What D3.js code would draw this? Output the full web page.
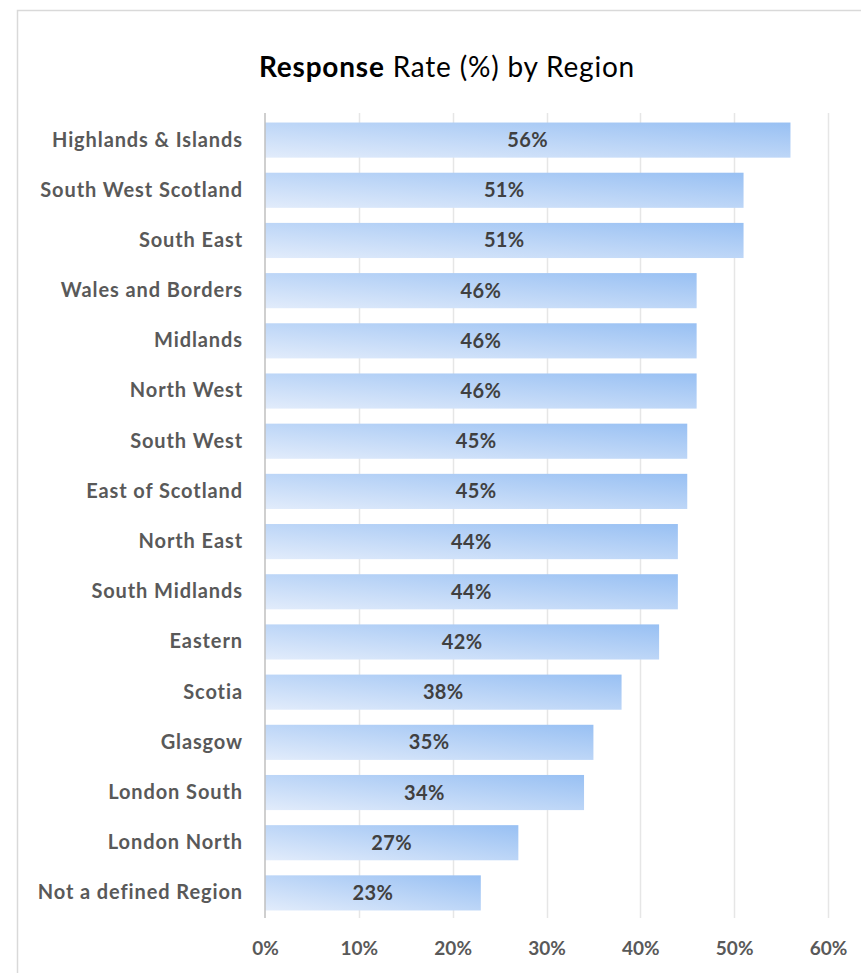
<!DOCTYPE html>
<html>
<head>
<meta charset="utf-8">
<script src="https://cdn.jsdelivr.net/npm/d3@7"></script>
<style>
  html, body { margin: 0; padding: 0; background: #fff; }
  svg { display: block; }
  text { font-family: Lato, "Open Sans", sans-serif; }
</style>
</head>
<body>
<svg id="chart" width="861" height="973"></svg>
<script>
// Response rate by region, in percent
const regions = [
  "Highlands & Islands", "South West Scotland", "South East", "Wales and Borders",
  "Midlands", "North West", "South West", "East of Scotland", "North East",
  "South Midlands", "Eastern", "Scotia", "Glasgow", "London South",
  "London North", "Not a defined Region"
];
const rates = [56, 51, 51, 46, 46, 46, 45, 45, 44, 44, 42, 38, 35, 34, 27, 23];
const tickValues = [0, 10, 20, 30, 40, 50, 60];

const data = regions.map((r, i) => ({ region: r, rate: rates[i] }));

const svg = d3.select("#chart");
const W = 861, H = 973;

// chart frame
svg.append("rect")
  .attr("x", 17.5).attr("y", 10.5)
  .attr("width", W + 10).attr("height", H + 10)
  .attr("fill", "#fff").attr("stroke", "#d9d9d9").attr("stroke-width", 1.5);

const plot = { left: 265, right: 828, top: 115, bottom: 918 };

const x = d3.scaleLinear().domain([0, 60]).range([plot.left, plot.right]);
const y = d3.scaleBand().domain(regions).range([plot.top, plot.bottom])
  .paddingInner(0.3).paddingOuter(0.15);

// bar fill
const defs = svg.append("defs");
const grad = defs.append("linearGradient").attr("id", "barFill")
  .attr("x1", 0).attr("y1", 1).attr("x2", 1).attr("y2", 0);
grad.append("stop").attr("offset", "0%").attr("stop-color", "#e2ecfb");
grad.append("stop").attr("offset", "100%").attr("stop-color", "#98c0f3");

// vertical gridlines
svg.append("g")
  .selectAll("line")
  .data(tickValues.slice(1))
  .join("line")
  .attr("x1", d => Math.round(x(d)) + 0.5).attr("x2", d => Math.round(x(d)) + 0.5)
  .attr("y1", plot.top - 2).attr("y2", plot.bottom)
  .attr("stroke", "#e6e6e6").attr("stroke-width", 1.5);

// bars
svg.append("g")
  .selectAll("rect")
  .data(data)
  .join("rect")
  .attr("x", x(0))
  .attr("y", d => y(d.region))
  .attr("width", d => x(d.rate) - x(0))
  .attr("height", y.bandwidth())
  .attr("fill", "url(#barFill)");

// category axis line
svg.append("line")
  .attr("x1", x(0)).attr("x2", x(0))
  .attr("y1", plot.top - 2).attr("y2", plot.bottom)
  .attr("stroke", "#bfbfbf").attr("stroke-width", 1.5);

// value labels
svg.append("g")
  .selectAll("text")
  .data(data)
  .join("text")
  .attr("x", d => (x(0) + x(d.rate)) / 2)
  .attr("y", d => y(d.region) + y.bandwidth() / 2)
  .attr("dy", "0.35em")
  .attr("text-anchor", "middle")
  .attr("font-size", 20).attr("font-weight", "bold")
  .attr("letter-spacing", 0.4)
  .attr("fill", "#404040")
  .text(d => d.rate + "%");

// category labels
const yAxis = d3.axisLeft(y).tickSize(0).tickPadding(22);
svg.append("g")
  .attr("transform", `translate(${x(0)},0)`)
  .call(yAxis)
  .call(g => g.select(".domain").remove())
  .selectAll("text")
  .attr("font-family", "Lato, 'Open Sans', sans-serif")
  .attr("font-size", 20).attr("font-weight", "bold")
  .attr("letter-spacing", 0.9)
  .attr("fill", "#595959");

// value axis labels
const xAxis = d3.axisBottom(x).tickValues(tickValues).tickSize(0).tickPadding(16)
  .tickFormat(d => d + "%");
svg.append("g")
  .attr("transform", `translate(0,${plot.bottom + 8})`)
  .call(xAxis)
  .call(g => g.select(".domain").remove())
  .selectAll("text")
  .attr("font-family", "Lato, 'Open Sans', sans-serif")
  .attr("font-size", 19).attr("font-weight", "bold")
  .attr("fill", "#595959");

// title
const title = svg.append("text")
  .attr("x", 447).attr("y", 77)
  .attr("text-anchor", "middle")
  .attr("font-size", 28).attr("letter-spacing", 0.8).attr("fill", "#000");
title.append("tspan").attr("font-weight", "bold").text("Response");
title.append("tspan").text(" Rate (%) by Region");
</script>
</body>
</html>
